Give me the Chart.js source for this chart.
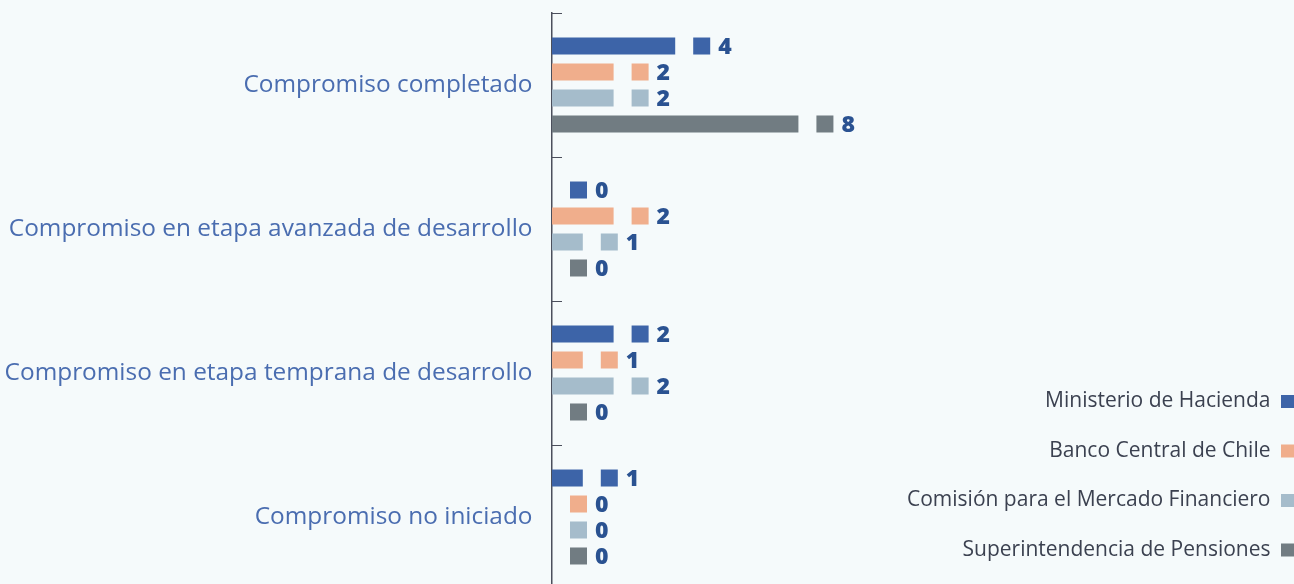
<!DOCTYPE html>
<html>
<head>
<meta charset="utf-8">
<script src="https://cdn.jsdelivr.net/npm/chart.js@4"></script>
<style>
  html, body { margin: 0; padding: 0; background: #f5fafb; overflow: hidden; height: 584px; }
  #mainGraph { display: block; }
</style>
</head>
<body>
<canvas id="mainGraph" width="1294" height="589"></canvas>
<script>
// categories (top to bottom) and one array per institution
var categories = [
    'Compromiso completado',
    'Compromiso en etapa avanzada de desarrollo',
    'Compromiso en etapa temprana de desarrollo',
    'Compromiso no iniciado'
];
var seriesNames = [
    'Ministerio de Hacienda',
    'Banco Central de Chile',
    'Comisión para el Mercado Financiero',
    'Superintendencia de Pensiones'
];
var hacienda = [4, 0, 2, 1];
var bancoCentral = [2, 2, 1, 0];
var cmf = [2, 1, 2, 0];
var pensiones = [8, 0, 0, 0];
var seriesColors = ['#3d64a8', '#f0ae8c', '#a5bccb', '#717c82'];

var seriesData = [hacienda, bancoCentral, cmf, pensiones];

// little square + number after every bar
var valueLabels = {
    id: 'valueLabels',
    afterDatasetsDraw: function(chart) {
        var ctx = chart.ctx;
        ctx.save();
        ctx.font = '800 23px "Open Sans"';
        ctx.textBaseline = 'middle';
        ctx.textAlign = 'left';
        chart.data.datasets.forEach(function(ds, i) {
            chart.getDatasetMeta(i).data.forEach(function(bar, j) {
                var x = bar.x + 18;
                ctx.fillStyle = ds.backgroundColor;
                ctx.fillRect(x, bar.y - 8.5, 17, 17);
                ctx.fillStyle = '#2a5291';
                ctx.fillText(ds.data[j], x + 25, bar.y + 1);
            });
        });
        ctx.restore();
    }
};

var ctx = document.getElementById('mainGraph').getContext('2d');

var chart = new Chart(ctx, {
    type: 'bar',
    data: {
        labels: categories,
        datasets: seriesNames.map(function(name, i) {
            return {
                label: name,
                data: seriesData[i],
                backgroundColor: seriesColors[i],
                borderWidth: 0,
                barPercentage: 0.654,
                categoryPercentage: 0.722
            };
        })
    },
    options: {
        indexAxis: 'y',
        responsive: false,
        animation: false,
        devicePixelRatio: 1,
        layout: {
            padding: { top: 13, bottom: 0, left: 0, right: -28.5 }
        },
        scales: {
            x: {
                display: false,
                min: 0,
                max: 11.2
            },
            y: {
                offset: true,
                grid: {
                    offset: true,
                    drawOnChartArea: false,
                    tickLength: -10,
                    color: '#4b4f5c',
                    lineWidth: 1
                },
                border: { color: '#4b4f5c', width: 1.5 },
                ticks: {
                    padding: 29.5,
                    color: '#4a6db0',
                    font: { family: '"Open Sans"', size: 24.4 }
                },
                afterFit: function(scale) {
                    scale.width = 552;
                    scale.paddingTop = 0;
                    scale.paddingBottom = 0;
                }
            }
        },
        plugins: {
            tooltip: { enabled: false },
            legend: {
                position: 'right',
                align: 'end',
                rtl: true,
                maxWidth: 600,
                labels: {
                    boxWidth: 13,
                    boxHeight: 13,
                    padding: 28.5,
                    color: '#3b4150',
                    font: { family: '"Open Sans"', size: 21 }
                }
            }
        }
    },
    plugins: [valueLabels]
});
</script>
</body>
</html>
